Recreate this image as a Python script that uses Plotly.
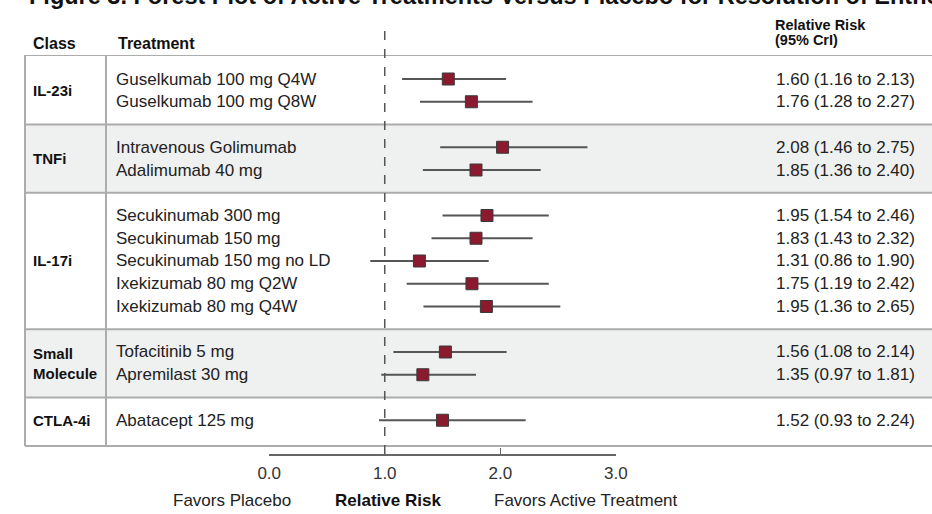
import plotly.graph_objects as go

# ---------------- data ----------------
classes = ["IL-23i", "TNFi", "IL-17i", "Small<br>Molecule", "CTLA-4i"]
class_sizes = [2, 2, 5, 2, 1]
class_shaded = [False, True, False, True, False]

treatments = [
    "Guselkumab 100 mg Q4W",
    "Guselkumab 100 mg Q8W",
    "Intravenous Golimumab",
    "Adalimumab 40 mg",
    "Secukinumab 300 mg",
    "Secukinumab 150 mg",
    "Secukinumab 150 mg no LD",
    "Ixekizumab 80 mg Q2W",
    "Ixekizumab 80 mg Q4W",
    "Tofacitinib 5 mg",
    "Apremilast 30 mg",
    "Abatacept 125 mg",
]

# point estimates and interval ends as drawn (read from the marks)
est = [1.55, 1.75, 2.02, 1.79, 1.885, 1.79, 1.30, 1.755, 1.88, 1.525, 1.33, 1.50]
ci_lo = [1.15, 1.305, 1.48, 1.33, 1.50, 1.405, 0.875, 1.19, 1.335, 1.075, 0.97, 0.95]
ci_hi = [2.05, 2.28, 2.755, 2.35, 2.42, 2.28, 1.90, 2.42, 2.52, 2.055, 1.79, 2.22]

# values printed in the right-hand column
rr_val = [1.60, 1.76, 2.08, 1.85, 1.95, 1.83, 1.31, 1.75, 1.95, 1.56, 1.35, 1.52]
rr_lo = [1.16, 1.28, 1.46, 1.36, 1.54, 1.43, 0.86, 1.19, 1.36, 1.08, 0.97, 0.93]
rr_hi = [2.13, 2.27, 2.75, 2.40, 2.46, 2.32, 1.90, 2.42, 2.65, 2.14, 1.81, 2.24]

tick_vals = [0, 1, 2, 3]
tick_text = ["0.0", "1.0", "2.0", "3.0"]

title_text = "Figure 3. Forest Plot of Active Treatments Versus Placebo for Resolution of Enthesitis"

# ---------------- layout helpers ----------------
FONT = "Liberation Sans, Arial, Helvetica, sans-serif"
W, H = 932, 514
# plot area in pixels: x 269..616, y 55..454
PX0, PX1, PY0, PY1 = 269, 616, 55, 454
ML, MR = PX0, W - PX1
MT, MB = PY0, H - PY1
PW = PX1 - PX0
PH = PY1 - PY0


def xp(px):  # pixel x -> paper
    return (px - PX0) / PW


def yp(py):  # pixel y -> paper
    return (PY1 - py) / PH


# row slots: consecutive rows in a class, one empty slot between classes
slots = []
groups = []
s = 0
for size in class_sizes:
    groups.append((s, size))
    slots += list(range(s, s + size))
    s += size + 1
last_slot = slots[-1]
top_sep = -1.05
bot_sep = last_slot + 1.13

sep_positions = [top_sep] + [g[0] - 1 for g in groups[1:]] + [bot_sep]

shapes = []
for (start, size), shaded in zip(groups, class_shaded):
    if shaded:
        shapes.append(dict(type="rect", xref="paper", yref="y",
                           x0=xp(25), x1=xp(W + 5), y0=start - 1, y1=start + size,
                           fillcolor="#eff0f0", line=dict(width=0), layer="below"))
for yv in sep_positions:
    shapes.append(dict(type="line", xref="paper", yref="y",
                       x0=xp(25), x1=xp(W + 5), y0=yv, y1=yv,
                       line=dict(color="#acacac", width=2), layer="below"))
for xv in (25, 106):
    shapes.append(dict(type="line", xref="paper", yref="y",
                       x0=xp(xv), x1=xp(xv), y0=top_sep, y1=bot_sep,
                       line=dict(color="#acacac", width=2), layer="below"))
# reference line at RR = 1
shapes.append(dict(type="line", xref="x", yref="paper", x0=1, x1=1,
                   y0=0, y1=yp(28),
                   line=dict(color="#555555", width=1.5, dash="dash"), layer="above"))

annotations = []
# title (cut off at the top of the image, as in the source)
annotations.append(dict(text="<b>" + title_text + "</b>", xref="paper", yref="paper",
                        x=xp(27), y=yp(-3.5), xanchor="left", yanchor="middle",
                        showarrow=False, font=dict(family=FONT, size=23.5, color="#111")))
# headers
hdr_font = dict(family=FONT, size=16, color="#111")
annotations.append(dict(text="<b>Class</b>", xref="paper", yref="paper", x=xp(31), y=yp(43),
                        xanchor="left", yanchor="middle", showarrow=False, font=hdr_font))
annotations.append(dict(text="<b>Treatment</b>", xref="paper", yref="paper", x=xp(116), y=yp(43),
                        xanchor="left", yanchor="middle", showarrow=False, font=hdr_font))
rr_hdr_font = dict(family=FONT, size=14.5, color="#111")
annotations.append(dict(text="<b>Relative Risk</b>", xref="paper", yref="paper", x=xp(773), y=yp(25),
                        xanchor="left", yanchor="middle", showarrow=False, font=rr_hdr_font))
annotations.append(dict(text="<b>(95% CrI)</b>", xref="paper", yref="paper", x=xp(773), y=yp(40),
                        xanchor="left", yanchor="middle", showarrow=False, font=rr_hdr_font))

# class labels
for (start, size), cls in zip(groups, classes):
    annotations.append(dict(text="<b>" + cls + "</b>", xref="paper", yref="y",
                            x=xp(31), y=start + (size - 1) / 2,
                            xanchor="left", yanchor="middle", align="left", showarrow=False,
                            font=dict(family=FONT, size=15, color="#111")))

row_font = dict(family=FONT, size=17, color="#222")
for sl, name, v, lo, hi in zip(slots, treatments, rr_val, rr_lo, rr_hi):
    annotations.append(dict(text=name, xref="paper", yref="y", x=xp(114), y=sl,
                            xanchor="left", yanchor="middle", showarrow=False, font=row_font))
    annotations.append(dict(text=f"{v:.2f} ({lo:.2f} to {hi:.2f})", xref="paper", yref="y",
                            x=xp(774), y=sl, xanchor="left", yanchor="middle",
                            showarrow=False, font=row_font))

# bottom labels
annotations.append(dict(text="Favors Placebo", xref="paper", yref="paper", x=xp(232), y=yp(500),
                        xanchor="center", yanchor="middle", showarrow=False, font=row_font))
annotations.append(dict(text="<b>Relative Risk</b>", xref="paper", yref="paper", x=xp(388), y=yp(500),
                        xanchor="center", yanchor="middle", showarrow=False,
                        font=dict(family=FONT, size=17, color="#111")))
annotations.append(dict(text="Favors Active Treatment", xref="paper", yref="paper", x=xp(586), y=yp(500),
                        xanchor="center", yanchor="middle", showarrow=False, font=row_font))

fig = go.Figure()
fig.add_trace(go.Scatter(
    x=est, y=slots, mode="markers",
    marker=dict(symbol="square", size=12, color="#8b1a2e", line=dict(color="#3a3a3a", width=1)),
    error_x=dict(type="data", symmetric=False,
                 array=[h - e for h, e in zip(ci_hi, est)],
                 arrayminus=[e - l for e, l in zip(est, ci_lo)],
                 color="#555555", thickness=2, width=0),
    hoverinfo="skip", showlegend=False,
))

fig.update_layout(
    width=W, height=H, autosize=False,
    margin=dict(l=ML, r=MR, t=MT, b=MB, pad=0),
    paper_bgcolor="white", plot_bgcolor="rgba(0,0,0,0)",
    shapes=shapes, annotations=annotations, showlegend=False,
    xaxis=dict(range=[-0.002, 3.002], tickvals=tick_vals, ticktext=tick_text,
               showline=True, linecolor="#666666", linewidth=1.5,
               ticks="inside", ticklen=6, tickwidth=1.5, tickcolor="#666666",
               showgrid=False, zeroline=False, ticklabelstandoff=3,
               tickfont=dict(family=FONT, size=17, color="#333")),
    yaxis=dict(range=[16.484, -1.055], visible=False, showgrid=False, zeroline=False),
)

fig.write_html(
    "out.html",
    config={"displayModeBar": False, "staticPlot": True},
    post_script="document.body.style.margin='0';document.body.style.overflow='hidden';",
)
